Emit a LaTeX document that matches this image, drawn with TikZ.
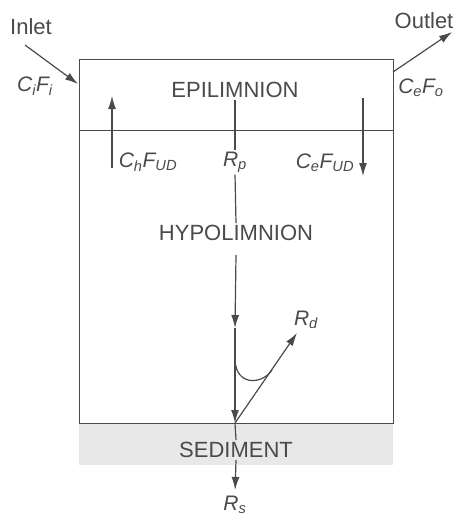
\documentclass[tikz,border=0pt]{standalone}
\usepackage{fontspec}
\setmainfont{Liberation Sans}
\usetikzlibrary{arrows.meta}
\definecolor{color_ink}{HTML}{4A4A4A}
\definecolor{color_bed}{HTML}{E8E8E8}
\tikzset{
  lake_box/.style={draw=color_ink, line width=1pt},
  bed_band/.style={fill=color_bed},
  zone_label/.style={font=\fontsize{22}{26}\selectfont, text=color_ink, inner sep=2pt},
  flux_label/.style={font=\fontsize{21}{25}\selectfont\itshape, text=color_ink, inner sep=2pt},
  flow_line/.style={draw=color_ink, line width=1.2pt},
  flow_arrow/.style={-{Latex[length=13pt, width=8pt]}, draw=color_ink, line width=1.2pt},
}
\begin{document}
\begin{tikzpicture}[x=1pt, y=-1pt]
    \useasboundingbox (0,0) rectangle (455,523);
    % lake and sediment layer
    \fill[bed_band] (79,423) rectangle (393,465);
    \draw[lake_box] (79,59) rectangle (393,423);
    \draw[lake_box] (79,130) -- (393,130);
    % zones
    \node[zone_label] (epi) at (235,90) {EPILIMNION};
    \node[zone_label] (hypo) at (236,233) {HYPOLIMNION};
    \node[zone_label] (sed) at (236,450) {SEDIMENT};
    % inlet and outlet
    \node[zone_label] (inlet) at (31,27) {Inlet};
    \node[zone_label] (outlet) at (424,21) {Outlet};
    \node[flux_label] (cifi) at (35,86) {C\textsubscript{i}F\textsubscript{i}};
    \node[flux_label] (cefo) at (421,88) {C\textsubscript{e}F\textsubscript{o}};
    \coordinate (in_start) at (25,45);
    \coordinate (in_end) at (78,84);
    \coordinate (out_start) at (393,72);
    \coordinate (out_end) at (452,32);
    \draw[flow_arrow] (in_start) -- (in_end);
    \draw[flow_arrow] (out_start) -- (out_end);
    % exchange across the thermocline
    \coordinate (up_start) at (112,168);
    \coordinate (up_end) at (112,96);
    \coordinate (down_start) at (363,98);
    \coordinate (down_end) at (363,176);
    \draw[flow_arrow] (up_start) -- (up_end);
    \draw[flow_arrow] (down_start) -- (down_end);
    \node[flux_label] (chfud) at (148,162) {C\textsubscript{h}F\textsubscript{UD}};
    \node[flux_label] (cefud) at (325,163) {C\textsubscript{e}F\textsubscript{UD}};
    % settling path
    \node[flux_label] (rp) at (235,162) {R\textsubscript{p}};
    \coordinate (mid) at (235,328);
    \coordinate (bed) at (235,423);
    \draw[flow_line] (epi.south) -- (rp.north);
    \draw[flow_line] (rp.south) -- (hypo.north);
    \draw[flow_arrow] ([yshift=-12pt]hypo.south) -- (mid);
    \draw[flow_arrow] (mid) -- (bed);
    \draw[flow_line] (bed) -- (sed.north);
    \node[flux_label] (rs) at (235,505) {R\textsubscript{s}};
    \draw[flow_arrow, shorten >=4pt] (sed.south) -- (rs.north);
    % release back to the water
    \coordinate (rd_end) at (297,333);
    \node[flux_label] (rd) at (306,320) {R\textsubscript{d}};
    \draw[flow_arrow] (bed) -- (rd_end);
    \draw[flow_line] (235,360) .. controls (236,386) and (262,385) .. (272,370);
\end{tikzpicture}
\end{document}
